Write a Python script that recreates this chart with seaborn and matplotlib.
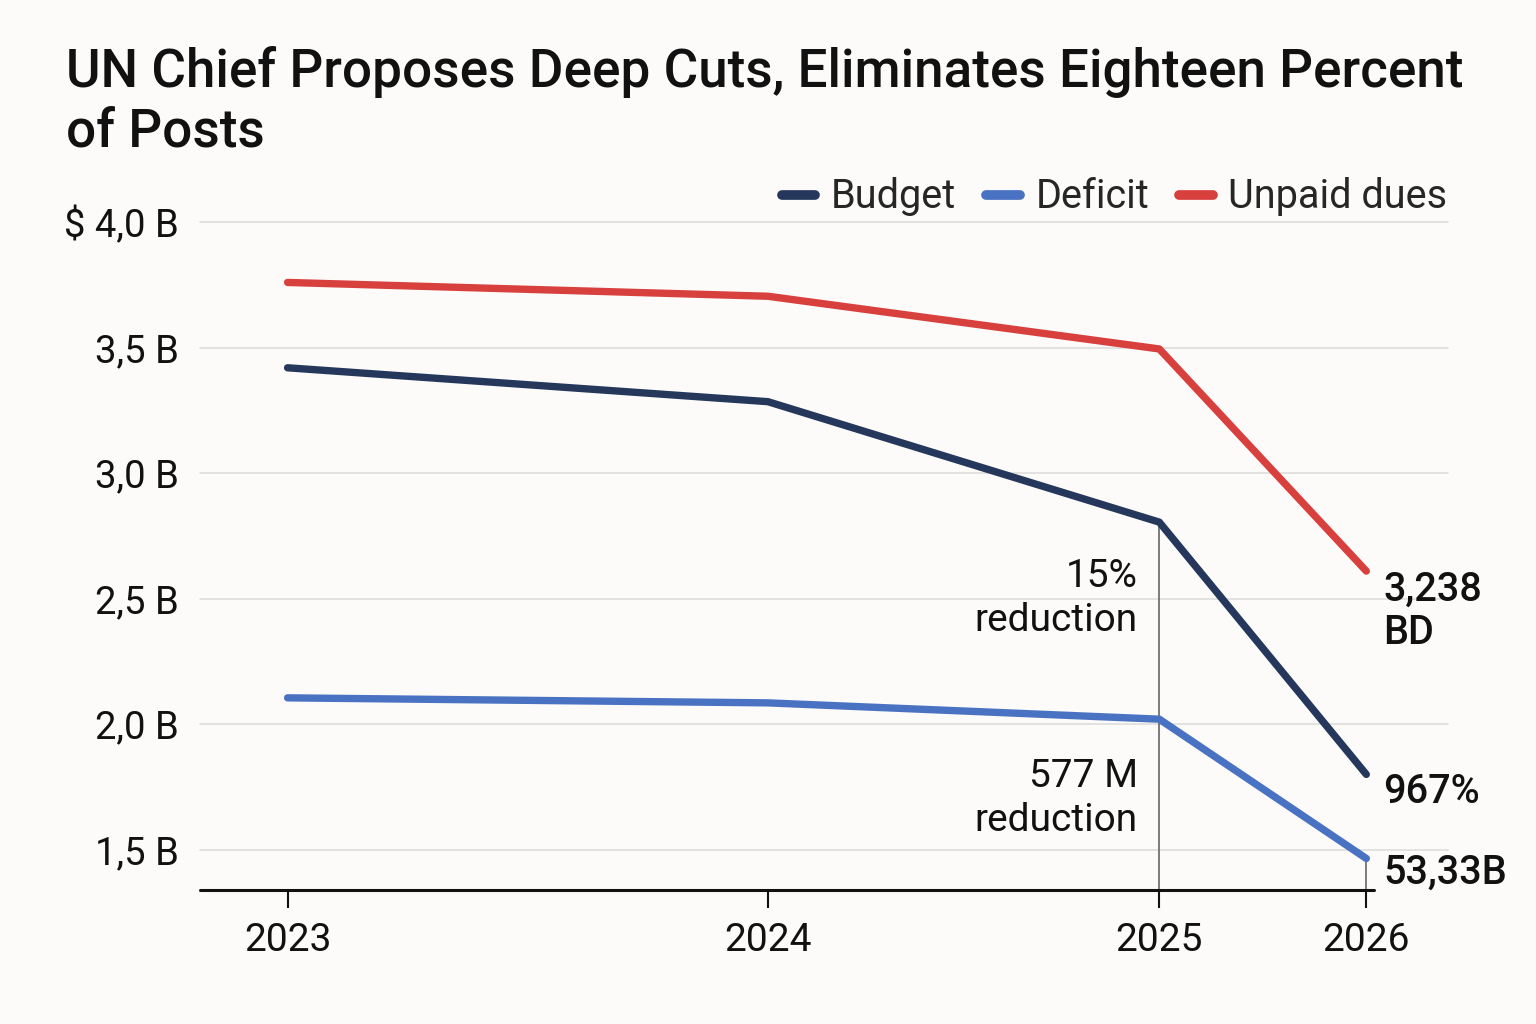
"""
UN budget cuts line chart - recreated with seaborn / matplotlib
"""
import matplotlib
matplotlib.use('Agg')
import matplotlib.pyplot as plt
import seaborn as sns
import pandas as pd

# ---- data -------------------------------------------------------------
years = ['2023', '2024', '2025', '2026']
# uneven spacing of the periods on the time axis (as drawn in the source)
x_pos = [0.0, 1.0, 1.815, 2.246]

budget = [3.42, 3.285, 2.805, 1.80]
deficit = [2.105, 2.085, 2.02, 1.465]
unpaid_dues = [3.76, 3.705, 3.495, 2.61]

series_names = ['Budget', 'Deficit', 'Unpaid dues']
series_colors = ['#25385c', '#4a72c2', '#d8403e']

y_ticks = [1.5, 2.0, 2.5, 3.0, 3.5, 4.0]
y_tick_labels = ['1,5 B', '2,0 B', '2,5 B', '3,0 B', '3,5 B', '$ 4,0 B']

end_labels = ['967%', '53,33B', '3,238\nBD']
mid_labels = ['15%\nreduction', '577 M\nreduction']

title = 'UN Chief Proposes Deep Cuts, Eliminates Eighteen Percent\nof Posts'

# ---- style ------------------------------------------------------------
sns.set_style('white')
plt.rcParams['font.family'] = ['Roboto', 'DejaVu Sans']
bg = '#fcfbf9'
ink = '#111111'

df = pd.DataFrame({
    'x': x_pos * 3,
    'value': budget + deficit + unpaid_dues,
    'series': [s for s in series_names for _ in x_pos],
})

fig = plt.figure(figsize=(15.36, 10.24), dpi=100, facecolor=bg)
ax = fig.add_axes([0.130, 0.131, 0.813, 0.652], facecolor=bg)

sns.lineplot(
    data=df, x='x', y='value', hue='series',
    palette=dict(zip(series_names, series_colors)),
    linewidth=5.3, ax=ax, legend=False,
)
for line in ax.get_lines():
    line.set_solid_capstyle('round')
    line.set_solid_joinstyle('round')

ax.set_xlim(-0.183, 2.417)
ax.set_ylim(1.34, 4.0)

# grid
for yv in y_ticks:
    ax.axhline(yv, color='#dddddd', lw=1.2, zorder=0, clip_on=False)
for sp in ax.spines.values():
    sp.set_visible(False)
ax.axhline(1.34, xmin=0, xmax=0.94, color=ink, lw=2.2, clip_on=False)

# reference lines
ax.plot([x_pos[2], x_pos[2]], [1.34, budget[2]], color='#666666', lw=1.2, zorder=1)
ax.plot([x_pos[3], x_pos[3]], [1.34, deficit[3]], color='#666666', lw=1.2, zorder=1)

# ticks
ax.set_yticks(y_ticks)
ax.set_yticklabels(y_tick_labels)
ax.set_xticks(x_pos)
ax.set_xticklabels(years)
ax.tick_params(axis='y', length=0, pad=15, labelsize=27.5, labelcolor=ink)
ax.tick_params(axis='x', direction='out', length=13, width=1.5, color=ink,
               pad=10, labelsize=28, labelcolor=ink, bottom=True)
ax.set_xlabel('')
ax.set_ylabel('')

# annotations
ax.text(1.77, 2.50, mid_labels[0], ha='right', va='center', fontsize=28,
        color=ink, linespacing=1.25)
ax.text(1.77, 1.705, mid_labels[1], ha='right', va='center', fontsize=28,
        color=ink, linespacing=1.25)
lx = x_pos[3] + 0.035
ax.text(lx, 2.45, end_labels[2], ha='left', va='center', fontsize=28.5,
        color=ink, linespacing=1.15, fontweight='medium')
ax.text(lx, 1.73, end_labels[0], ha='left', va='center', fontsize=28.5,
        color=ink, fontweight='medium')
ax.text(lx, 1.408, end_labels[1], ha='left', va='center', fontsize=28.5,
        color=ink, fontweight='medium')

# legend
handles = [plt.Line2D([0], [0], color=c, lw=7, solid_capstyle='round')
           for c in series_colors]
ax.legend(handles, series_names, loc='lower right', bbox_to_anchor=(1.012, 0.985),
          ncol=3, frameon=False, fontsize=28.5, handlelength=0.85,
          handletextpad=0.4, columnspacing=0.75, borderaxespad=0.0)

fig.text(0.043, 0.955, title, ha='left', va='top', fontsize=38.2,
         fontweight='medium', color=ink, linespacing=1.2)

fig.savefig('out.png', dpi=100, facecolor=bg)
